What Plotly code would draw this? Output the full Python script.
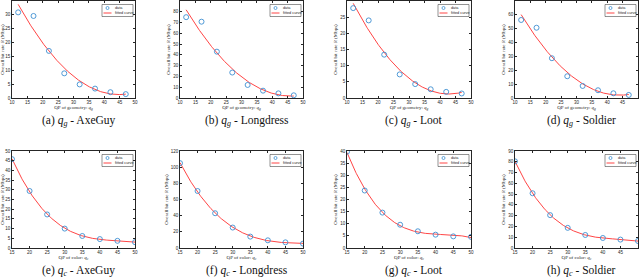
import numpy as np
import plotly.graph_objects as go

W, H = 640, 280

# ---------------- data ----------------
qp_geometry = [12, 17, 22, 27, 32, 37, 42, 47]
qp_color = [15, 20, 25, 30, 35, 40, 45, 50]

rate_g_axeguy = [30.9, 29.6, 17.0, 8.9, 4.9, 3.4, 2.1, 1.4]
rate_g_longdress = [75.0, 70.8, 43.0, 23.6, 12.1, 6.8, 4.3, 2.5]
rate_g_loot = [27.8, 24.0, 13.4, 7.3, 4.3, 2.7, 1.9, 1.4]
rate_g_soldier = [56.3, 50.7, 28.7, 15.7, 8.7, 5.6, 3.4, 2.2]

rate_c_axeguy = [45.8, 29.4, 17.3, 10.0, 6.2, 4.6, 3.7, 3.0]
rate_c_longdress = [105.0, 70.5, 43.0, 25.3, 14.1, 9.5, 7.0, 5.4]
rate_c_loot = [39.7, 23.7, 14.6, 9.6, 6.9, 5.5, 4.8, 4.6]
rate_c_soldier = [80.4, 50.8, 30.5, 18.7, 12.1, 9.3, 7.8, 6.5]

captions = [
    "(a) <i>q<sub>g</sub></i> - AxeGuy", "(b) <i>q<sub>g</sub></i> - Longdress",
    "(c) <i>q<sub>g</sub></i> - Loot", "(d) <i>q<sub>g</sub></i> - Soldier",
    "(e) <i>q<sub>c</sub></i> - AxeGuy", "(f) <i>q<sub>c</sub></i> - Longdress",
    "(g) <i>q<sub>c</sub></i> - Loot", "(h) <i>q<sub>c</sub></i> - Soldier",
]
y_max = [35, 90, 30, 70, 50, 120, 40, 90]
y_step = [5, 10, 5, 10, 5, 20, 5, 10]

panels = [
    (qp_geometry, rate_g_axeguy, 2), (qp_geometry, rate_g_longdress, 2),
    (qp_geometry, rate_g_loot, 2), (qp_geometry, rate_g_soldier, 2),
    (qp_color, rate_c_axeguy, 3), (qp_color, rate_c_longdress, 3),
    (qp_color, rate_c_loot, 3), (qp_color, rate_c_soldier, 3),
]

# ---------------- layout geometry (pixels) ----------------
col_px = [(12, 135), (180, 303), (347, 471), (515, 638)]
row_px = [(1, 98), (151, 248)]
caption_y = [121, 271]

def px_x(p):
    return p / W

def px_y(p):
    return 1 - p / H

fig = go.Figure()
shapes = []
annotations = []

tick_font = dict(family="Liberation Sans", size=4.5, color="#262626")
title_font = dict(family="Liberation Serif", size=5, color="#262626")
blue = "#3d8fd1"
red = "#ff3030"

for i, (xs, ys, deg) in enumerate(panels):
    r, c = divmod(i, 4)
    x0p, x1p = col_px[c]
    t, b = row_px[r]
    k = i + 1
    xa = "x" if k == 1 else f"x{k}"
    ya = "y" if k == 1 else f"y{k}"

    coef = np.polyfit(xs, ys, deg)
    xf = np.linspace(xs[0], xs[-1], 200)
    yf = np.polyval(coef, xf)

    fig.add_trace(go.Scatter(x=xf, y=yf, mode="lines", line=dict(color=red, width=0.9),
                             xaxis=xa, yaxis=ya, showlegend=False, hoverinfo="skip"))
    fig.add_trace(go.Scatter(x=xs, y=ys, mode="markers",
                             marker=dict(symbol="circle-open", size=5, color=blue,
                                         line=dict(width=0.9, color=blue)),
                             xaxis=xa, yaxis=ya, showlegend=False))

    if r == 0:
        xr, xt = [10, 50], list(range(10, 51, 5))
        xtitle = "QP of geometry: <i>q<sub>g</sub></i>"
    else:
        xr, xt = [15, 50], list(range(15, 51, 5))
        xtitle = "QP of color: <i>q<sub>c</sub></i>"

    common = dict(showline=True, linecolor="#262626", linewidth=0.6, mirror="ticks",
                  ticks="inside", ticklen=2, tickwidth=0.5, tickcolor="#262626",
                  showgrid=False, zeroline=False, tickfont=tick_font, automargin=False)
    fig.layout[f"xaxis{'' if k == 1 else k}"] = dict(
        domain=[px_x(x0p), px_x(x1p)], range=xr, tickvals=xt, anchor=ya,
        title=dict(text=xtitle, font=title_font, standoff=1), **common)
    fig.layout[f"yaxis{'' if k == 1 else k}"] = dict(
        domain=[px_y(b), px_y(t)], range=[0, y_max[i]],
        tickvals=list(range(0, y_max[i] + 1, y_step[i])), anchor=xa,
        title=dict(text="Overall bit rate <i>R</i> (Mbps)", font=title_font, standoff=2),
        **common)

    # caption
    annotations.append(dict(text=captions[i], xref="paper", yref="paper",
                            x=px_x((x0p + x1p) / 2 + 5), y=px_y(caption_y[r]),
                            xanchor="center", yanchor="middle", showarrow=False,
                            font=dict(family="Liberation Serif", size=11.5, color="#111111")))

    # legend box
    lx0, lx1 = x1p - 33, x1p - 2
    ly0, ly1 = t + 3.5, t + 15.5
    shapes.append(dict(type="rect", xref="paper", yref="paper",
                       x0=px_x(lx0), x1=px_x(lx1), y0=px_y(ly1), y1=px_y(ly0),
                       line=dict(color="#262626", width=0.5), fillcolor="white"))
    my = ly0 + 3.5
    shapes.append(dict(type="circle", xref="paper", yref="paper",
                       x0=px_x(lx0 + 4), x1=px_x(lx0 + 7), y0=px_y(my + 1.5), y1=px_y(my - 1.5),
                       line=dict(color=blue, width=0.8)))
    ly = ly0 + 8.5
    shapes.append(dict(type="line", xref="paper", yref="paper",
                       x0=px_x(lx0 + 1.5), x1=px_x(lx0 + 9.5), y0=px_y(ly), y1=px_y(ly),
                       line=dict(color=red, width=0.9)))
    for txt, yy in (("data", my), ("fitted curve", ly)):
        annotations.append(dict(text=txt, xref="paper", yref="paper",
                                x=px_x(lx0 + 11), y=px_y(yy), xanchor="left", yanchor="middle",
                                showarrow=False,
                                font=dict(family="Liberation Sans", size=3.8, color="#262626")))

fig.update_layout(width=W, height=H, margin=dict(l=0, r=0, t=0, b=0),
                  paper_bgcolor="white", plot_bgcolor="white",
                  shapes=shapes, annotations=annotations, showlegend=False)

fig.write_html("out.html", config={"displayModeBar": False},
               post_script="document.body.style.margin='0';document.body.style.padding='0';")
